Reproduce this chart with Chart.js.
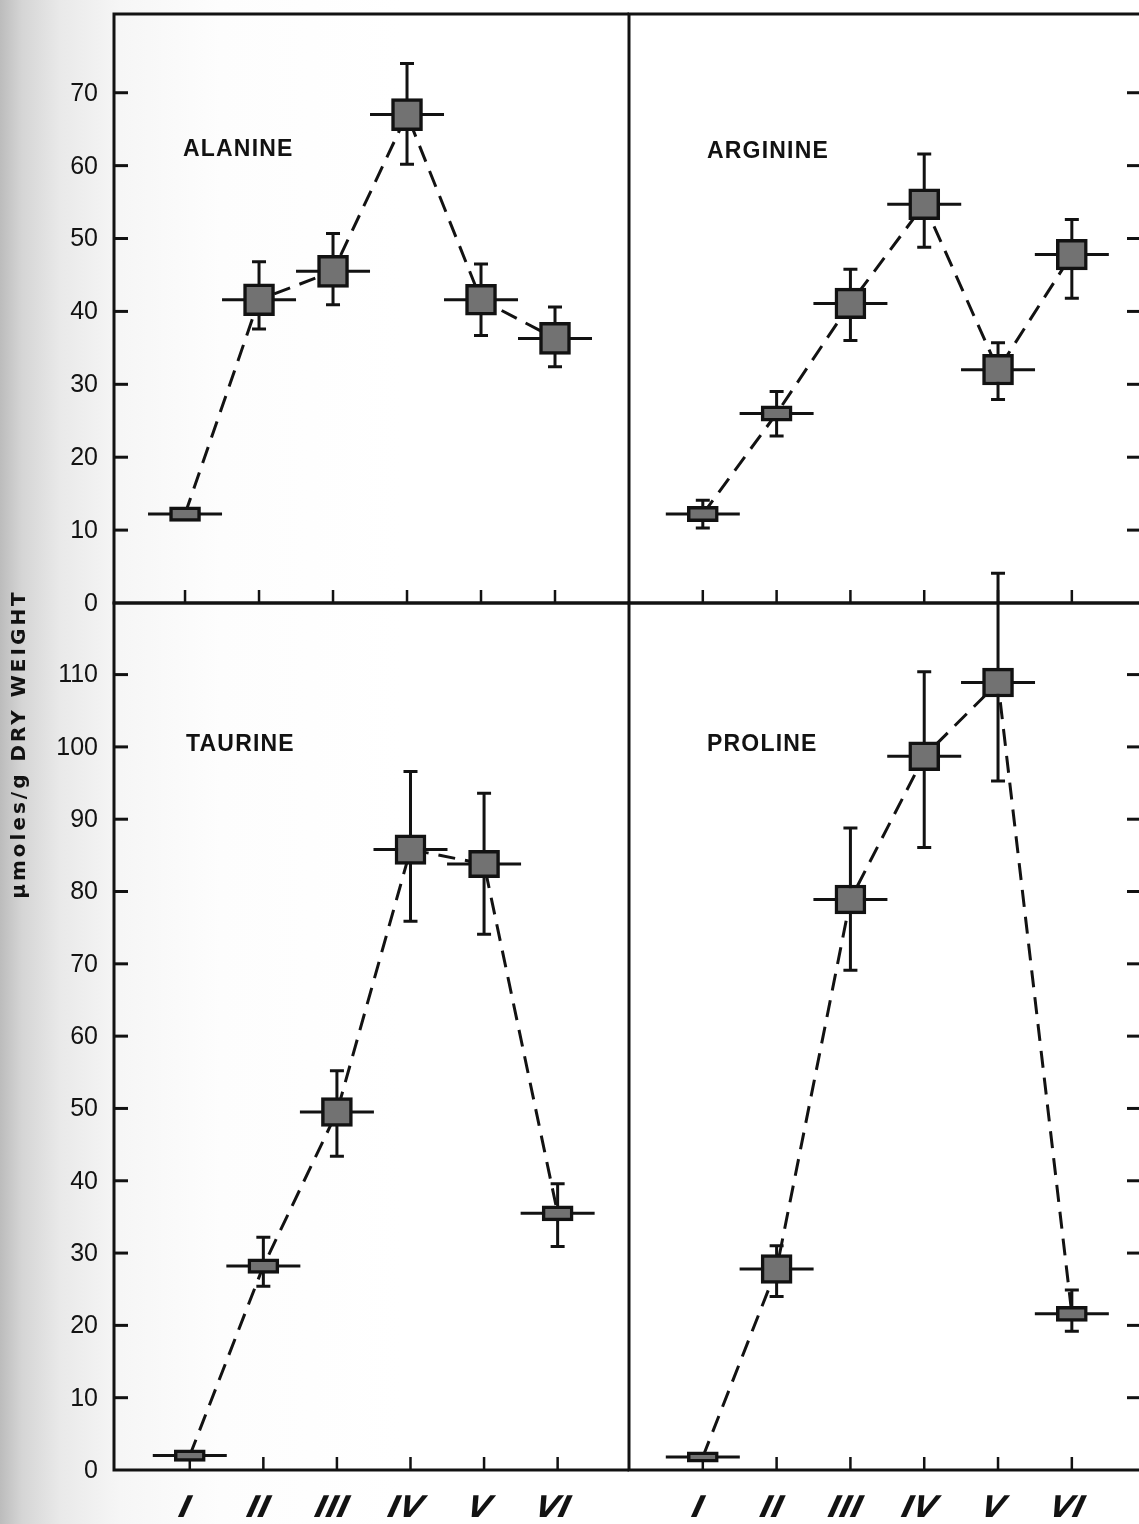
<!DOCTYPE html>
<html>
<head>
<meta charset="utf-8">
<title>Free amino acids by station</title>
<script src="https://cdn.jsdelivr.net/npm/chart.js@4.4.1/dist/chart.umd.min.js"></script>
<style>
  html, body { margin: 0; padding: 0; }
  body {
    width: 1139px; height: 1524px; overflow: hidden; position: relative;
    background: linear-gradient(to right, #bcbcbc 0px, #d5d5d5 22px, #e9e9e9 60px, #f6f6f6 120px, #fdfdfd 220px, #ffffff 400px);
  }
  canvas { position: absolute; left: 0; top: 0; }
</style>
</head>
<body>
<canvas id="alanine" width="1139" height="1524"></canvas>
<canvas id="arginine" width="1139" height="1524"></canvas>
<canvas id="taurine" width="1139" height="1524"></canvas>
<canvas id="proline" width="1139" height="1524"></canvas>
<script>
// stations I..VI
const stationLabels = ['I', 'II', 'III', 'IV', 'V', 'VI'];
const stations = [1, 2, 3, 4, 5, 6];

// tick values
const topTicks = [0, 10, 20, 30, 40, 50, 60, 70];
const bottomTicks = [0, 10, 20, 30, 40, 50, 60, 70, 80, 90, 100, 110];

// µmoles/g dry weight: mean, range low/high, box half-height
const alanineMean = [12.2, 41.6, 45.5, 67.0, 41.6, 36.3];
const alanineLow  = [12.2, 37.6, 40.9, 60.2, 36.7, 32.4];
const alanineHigh = [12.2, 46.8, 50.7, 74.0, 46.5, 40.6];
const alanineBox  = [1.0, 2.2, 2.2, 2.2, 2.1, 2.2];

const arginineMean = [12.2, 26.0, 41.1, 54.7, 32.0, 47.8];
const arginineLow  = [10.3, 22.9, 36.0, 48.8, 27.9, 41.8];
const arginineHigh = [14.1, 29.0, 45.8, 61.6, 35.7, 52.6];
const arginineBox  = [1.05, 1.05, 2.1, 2.1, 2.1, 2.1];

const taurineMean = [2.0, 28.2, 49.5, 85.8, 83.8, 35.5];
const taurineLow  = [2.0, 25.4, 43.4, 75.9, 74.1, 30.9];
const taurineHigh = [2.0, 32.2, 55.2, 96.6, 93.6, 39.6];
const taurineBox  = [0.8, 1.0, 2.0, 2.05, 1.9, 1.05];

const prolineMean = [1.8, 27.8, 78.9, 98.7, 108.9, 21.6];
const prolineLow  = [1.8, 24.0, 69.1, 86.1, 95.3, 19.2];
const prolineHigh = [1.8, 31.0, 88.8, 110.4, 124.0, 24.9];
const prolineBox  = [0.7, 2.0, 2.0, 2.0, 2.0, 1.05];

const W = 1139, H = 1524;
const INK = '#121212';
const BOX_FILL = '#727272';

function panelPlugin(p) {
  return {
    id: 'panelFrame',
    beforeDatasetsDraw(chart) {
      const ctx = chart.ctx;
      const a = chart.chartArea;
      const x = chart.scales.x, y = chart.scales.y;
      ctx.save();
      ctx.strokeStyle = INK;
      ctx.fillStyle = INK;
      ctx.lineWidth = 3;

      // frame (no right border, it falls off the page)
      ctx.beginPath();
      ctx.moveTo(a.left, a.top - 1.5); ctx.lineTo(a.left, a.bottom + 1.5);
      ctx.moveTo(a.left, a.top); ctx.lineTo(a.right, a.top);
      ctx.moveTo(a.left, a.bottom); ctx.lineTo(a.right, a.bottom);
      ctx.stroke();

      // x ticks pointing inward
      ctx.lineWidth = 2.5;
      ctx.beginPath();
      stations.forEach(s => {
        const px = x.getPixelForValue(s);
        ctx.moveTo(px, a.bottom); ctx.lineTo(px, a.bottom - 13);
      });
      ctx.stroke();

      // y ticks
      ctx.lineWidth = 3;
      ctx.font = '25px "Liberation Sans", Arial, sans-serif';
      ctx.textAlign = 'right';
      ctx.textBaseline = 'middle';
      p.ticks.forEach(t => {
        const py = y.getPixelForValue(t);
        if (p.side === 'left') {
          if (t !== 0) {
            ctx.beginPath(); ctx.moveTo(a.left, py); ctx.lineTo(a.left + 14, py); ctx.stroke();
          }
          ctx.fillText(String(t), a.left - 16, py + 1);
        } else if (t !== 0) {
          ctx.beginPath(); ctx.moveTo(a.right - 12, py); ctx.lineTo(a.right, py); ctx.stroke();
        }
      });

      // panel title
      ctx.font = 'bold 23px "Liberation Sans", Arial, sans-serif';
      ctx.letterSpacing = '1.2px';
      ctx.textAlign = 'left';
      ctx.fillText(p.title, p.titleX, p.titleY);
      ctx.letterSpacing = '0px';

      // station labels under the bottom panels
      if (p.showLabels) {
        ctx.font = 'bold oblique 30px "DejaVu Sans", sans-serif';
        ctx.textAlign = 'center';
        ctx.textBaseline = 'middle';
        stations.forEach((s, i) => {
          const px = x.getPixelForValue(s);
          ctx.save();
          ctx.translate(px - 5, 1509);
          ctx.transform(1, 0, -0.25, 1, 0, 0);
          ctx.fillText(stationLabels[i], 0, 0);
          ctx.restore();
        });
      }

      // y axis title
      if (p.axisTitle) {
        ctx.save();
        ctx.translate(20, 744);
        ctx.rotate(-Math.PI / 2);
        ctx.font = 'bold 20px "DejaVu Sans", sans-serif';
        ctx.letterSpacing = '3px';
        ctx.textAlign = 'center';
        ctx.textBaseline = 'middle';
        ctx.fillText(p.axisTitle, 0, 0);
        ctx.restore();
      }

      // horizontal bars and range bars behind the boxes
      ctx.lineWidth = 3;
      stations.forEach((s, i) => {
        const px = x.getPixelForValue(s);
        const pm = y.getPixelForValue(p.mean[i]);
        ctx.beginPath(); ctx.moveTo(px - 37, pm); ctx.lineTo(px + 37, pm); ctx.stroke();
        if (p.high[i] > p.low[i]) {
          const ph = y.getPixelForValue(p.high[i]);
          const pl = y.getPixelForValue(p.low[i]);
          ctx.beginPath();
          ctx.moveTo(px, ph); ctx.lineTo(px, pl);
          ctx.moveTo(px - 7, ph); ctx.lineTo(px + 7, ph);
          ctx.moveTo(px - 7, pl); ctx.lineTo(px + 7, pl);
          ctx.stroke();
        }
      });
      ctx.restore();
    }
  };
}

function makePanel(canvasId, p) {
  const points = stations.map((s, i) => ({ x: s, y: p.mean[i] }));
  const boxes = stations.map((s, i) => ({ x: s, y: [p.mean[i] - p.box[i], p.mean[i] + p.box[i]] }));
  return new Chart(document.getElementById(canvasId), {
    type: 'bar',
    data: {
      datasets: [{
        type: 'line',
        data: points,
        borderColor: INK,
        borderWidth: 3,
        borderDash: [17, 10],
        pointRadius: 0,
        tension: 0,
        fill: false,
        order: 2
      }, {
        type: 'bar',
        data: boxes,
        backgroundColor: BOX_FILL,
        borderColor: INK,
        borderWidth: 3.5,
        borderSkipped: false,
        barThickness: 31,
        order: 1
      }]
    },
    options: {
      responsive: false,
      animation: false,
      devicePixelRatio: 1,
      events: [],
      layout: {
        padding: { left: p.area[0], top: p.area[1], right: W - p.area[2], bottom: H - p.area[3] }
      },
      scales: {
        x: { type: 'linear', display: false, offset: false, min: p.xMin, max: p.xMax },
        y: { type: 'linear', display: false, min: 0, max: p.yMax }
      },
      plugins: {
        legend: { display: false },
        tooltip: { enabled: false }
      }
    },
    plugins: [panelPlugin(p)]
  });
}

makePanel('alanine', {
  title: 'ALANINE', titleX: 183, titleY: 150,
  mean: alanineMean, low: alanineLow, high: alanineHigh, box: alanineBox,
  ticks: topTicks, side: 'left', area: [114, 14, 629, 603],
  xMin: 0.04, xMax: 7.0, yMax: 80.8
});
makePanel('arginine', {
  title: 'ARGININE', titleX: 707, titleY: 152,
  mean: arginineMean, low: arginineLow, high: arginineHigh, box: arginineBox,
  ticks: topTicks, side: 'right', area: [629, 14, 1139, 603],
  xMin: 0.0, xMax: 6.91, yMax: 80.8
});
makePanel('taurine', {
  title: 'TAURINE', titleX: 186, titleY: 745,
  mean: taurineMean, low: taurineLow, high: taurineHigh, box: taurineBox,
  ticks: bottomTicks, side: 'left', area: [114, 603, 629, 1470],
  xMin: -0.03, xMax: 6.97, yMax: 119.9,
  showLabels: true, axisTitle: 'µmoles/g DRY WEIGHT'
});
makePanel('proline', {
  title: 'PROLINE', titleX: 707, titleY: 745,
  mean: prolineMean, low: prolineLow, high: prolineHigh, box: prolineBox,
  ticks: bottomTicks, side: 'right', area: [629, 603, 1139, 1470],
  xMin: 0.0, xMax: 6.91, yMax: 119.9,
  showLabels: true
});
</script>
</body>
</html>
